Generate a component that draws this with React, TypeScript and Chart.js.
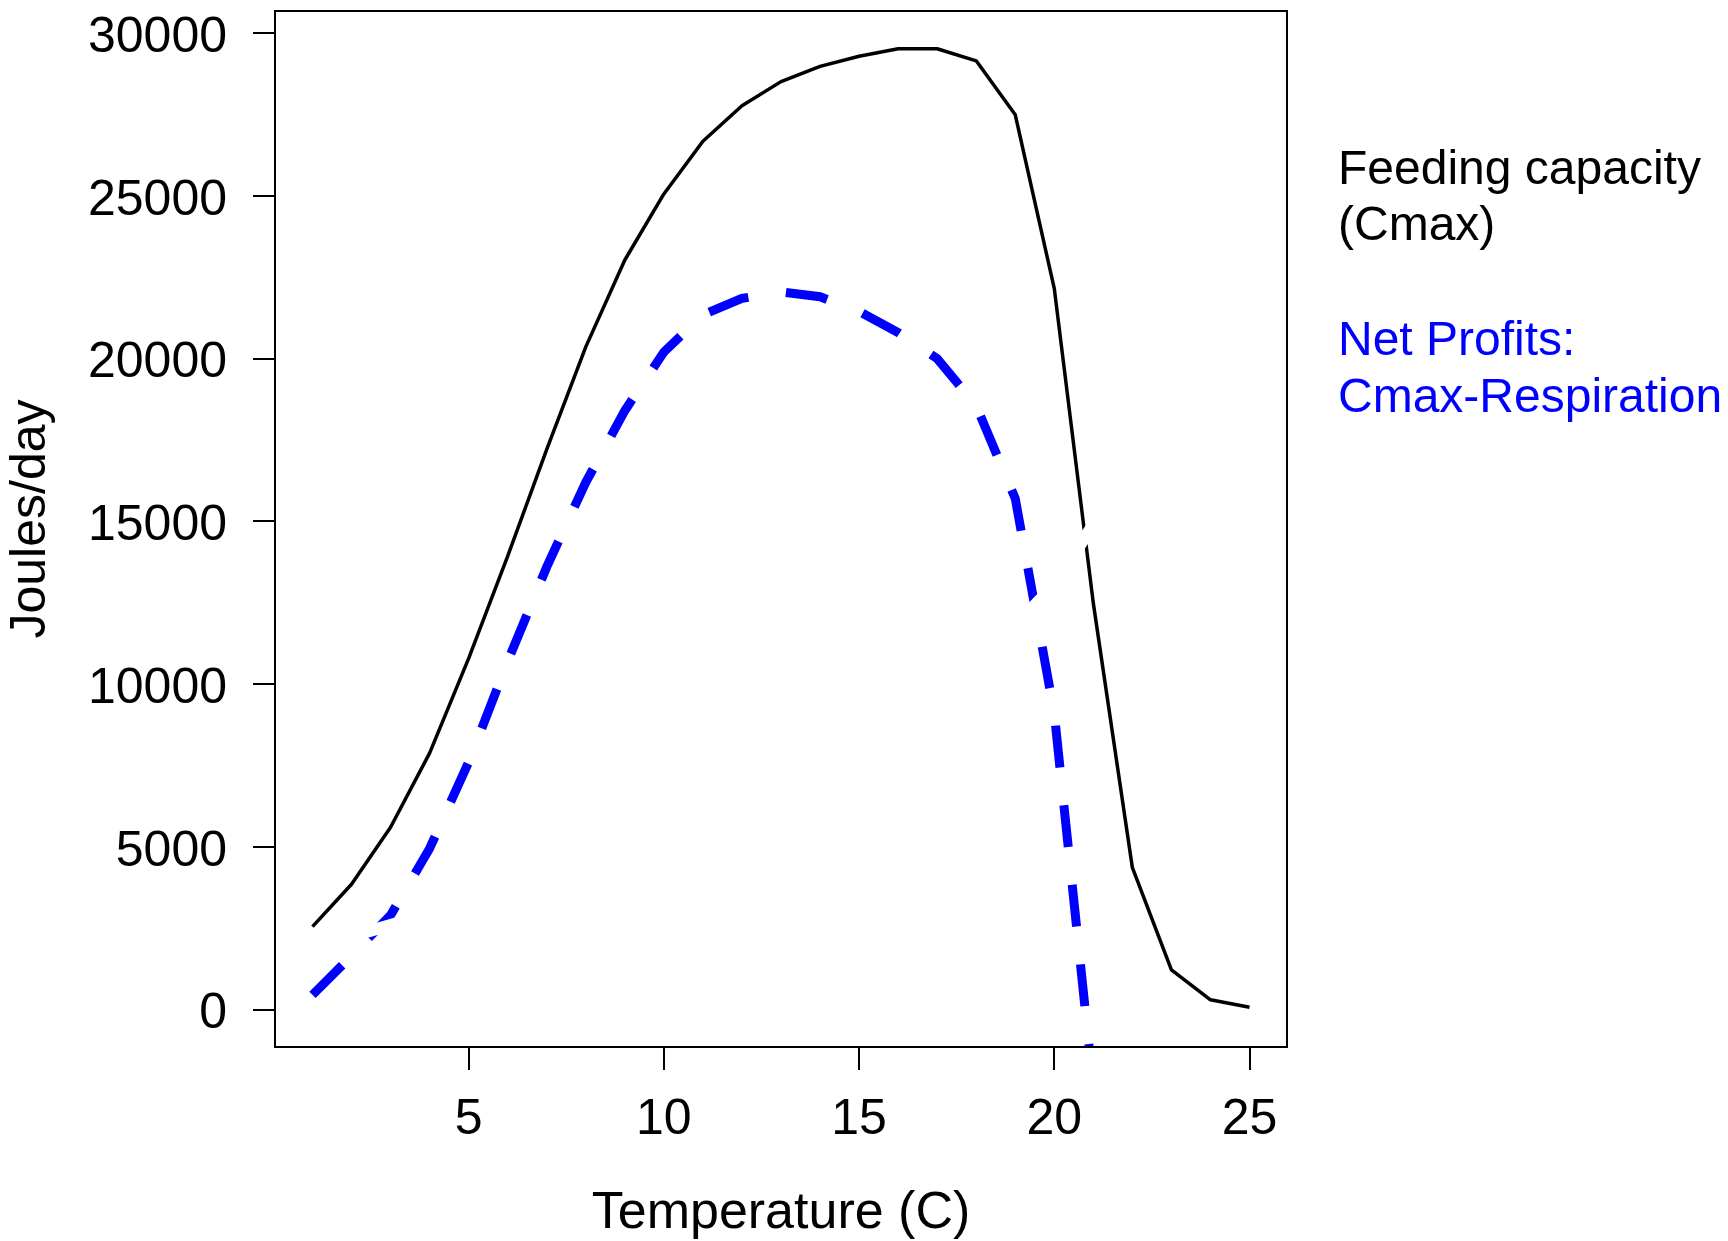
import React, { useEffect, useRef } from "react";
import { Chart, registerables } from "chart.js";

Chart.register(...registerables);

// Temperature (C)
const temperature = [1, 2, 3, 4, 5, 6, 7, 8, 9, 10, 11, 12, 13, 14, 15, 16, 17, 18, 19, 20, 21, 22, 23, 24, 25];
// Feeding capacity (Cmax), Joules/day
const cmax = [2550, 3850, 5600, 7880, 10790, 13930, 17210, 20360, 23030, 25060, 26680, 27770, 28510, 28980, 29290, 29520, 29520, 29150, 27490, 22150, 12480, 4360, 1220, 300, 70];
// Net profits: Cmax - Respiration (T = 1..21)
const netProfit = [450, 1650, 2900, 4950, 7600, 10700, 13600, 16200, 18400, 20200, 21350, 21850, 22050, 21900, 21450, 20800, 20000, 18550, 15700, 9100, -2400];
// Respiration curve, drawn in white in the original (only visible as gaps)
const respiration = [2100, 2250, 2600, 2950, 3200, 3450, 3800, 4150, 4600, 5000, 5500, 6000, 6550, 7150, 7850, 8700, 9500, 10600, 11800, 13050, 14900, 16500, 18200, 20000, 22000];

const xTicks = [5, 10, 15, 20, 25];
const yTicks = [0, 5000, 10000, 15000, 20000, 25000, 30000];

const xTitle = "Temperature (C)";
const yTitle = "Joules/day";
const legendBlack = ["Feeding capacity", "(Cmax)"];
const legendBlue = ["Net Profits:", "Cmax-Respiration"];

const FAMILY = "'Liberation Sans', Arial, Helvetica, sans-serif";

export default function App() {
  const ref = useRef<HTMLCanvasElement>(null);

  useEffect(() => {
    document.body.style.margin = "0";
    const canvas = ref.current;
    if (!canvas) return;

    const boxPlugin = {
      id: "rbox",
      afterDatasetsDraw(chart: any) {
        const { ctx, chartArea: a } = chart;
        ctx.save();
        ctx.strokeStyle = "#000";
        ctx.lineWidth = 2;
        ctx.strokeRect(a.left, a.top, a.right - a.left, a.bottom - a.top);
        ctx.restore();
      },
      afterDraw(chart: any) {
        const { ctx, chartArea: a } = chart;
        ctx.save();
        // y axis title
        ctx.font = `50px ${FAMILY}`;
        ctx.fillStyle = "#000";
        ctx.textAlign = "center";
        ctx.textBaseline = "middle";
        ctx.translate(31, (a.top + a.bottom) / 2 - 10);
        ctx.rotate(-Math.PI / 2);
        ctx.fillText(yTitle, 0, 0);
        ctx.restore();

        ctx.save();
        ctx.font = `48px ${FAMILY}`;
        ctx.textAlign = "left";
        ctx.textBaseline = "alphabetic";
        ctx.fillStyle = "#000";
        ctx.fillText(legendBlack[0], 1338, 184);
        ctx.fillText(legendBlack[1], 1338, 240);
        ctx.fillStyle = "#0000FF";
        ctx.fillText(legendBlue[0], 1338, 355);
        ctx.fillText(legendBlue[1], 1338, 412);
        ctx.restore();
      },
    };

    const zeroPad = (s: any) => {
      s.paddingTop = 0;
      s.paddingBottom = 0;
      s.paddingLeft = 0;
      s.paddingRight = 0;
    };

    const chart = new Chart(canvas, {
      type: "line",
      data: {
        datasets: [
          {
            label: "Respiration",
            data: temperature.map((t, i) => ({ x: t, y: respiration[i] })),
            borderColor: "#FFFFFF",
            borderWidth: 12,
            pointRadius: 0,
            tension: 0,
            borderJoinStyle: "round",
            order: 0,
            clip: 0,
          } as any,
          {
            label: "Net Profits",
            data: netProfit.map((v, i) => ({ x: temperature[i], y: v })),
            borderColor: "#0000FF",
            borderWidth: 9,
            borderDash: [42, 38],
            pointRadius: 0,
            tension: 0,
            borderJoinStyle: "miter",
            order: 1,
            clip: 0,
          } as any,
          {
            label: "Feeding capacity (Cmax)",
            data: temperature.map((t, i) => ({ x: t, y: cmax[i] })),
            borderColor: "#000000",
            borderWidth: 3.5,
            pointRadius: 0,
            tension: 0,
            borderJoinStyle: "round",
            order: 2,
            clip: 0,
          } as any,
        ],
      },
      options: {
        animation: false,
        responsive: false,
        devicePixelRatio: 1,
        layout: { padding: { top: 11, right: 441, bottom: 0, left: 0 } },
        plugins: { legend: { display: false }, tooltip: { enabled: false } },
        scales: {
          x: {
            type: "linear",
            min: 0.04,
            max: 25.96,
            afterBuildTicks: (s: any) => {
              s.ticks = xTicks.map((v) => ({ value: v }));
            },
            afterFit: (s: any) => {
              s.height = 194;
              zeroPad(s);
            },
            grid: { display: true, drawOnChartArea: false, drawTicks: true, tickLength: 23, color: "#000", lineWidth: 2 },
            border: { display: false },
            ticks: {
              color: "#000",
              font: { family: FAMILY, size: 50 },
              padding: 20,
              maxRotation: 0,
              autoSkip: false,
              callback: (v: any) => String(v),
            },
            title: {
              display: true,
              text: xTitle,
              color: "#000",
              font: { family: FAMILY, size: 52 },
              padding: { top: 0, bottom: -4 },
            },
          },
          y: {
            type: "linear",
            min: -1150,
            max: 30680,
            afterBuildTicks: (s: any) => {
              s.ticks = yTicks.map((v) => ({ value: v }));
            },
            afterFit: (s: any) => {
              s.width = 275;
              zeroPad(s);
            },
            grid: { display: true, drawOnChartArea: false, drawTicks: true, tickLength: 22, color: "#000", lineWidth: 2 },
            border: { display: false },
            ticks: {
              color: "#000",
              font: { family: FAMILY, size: 50 },
              padding: 26,
              labelOffset: 5,
              autoSkip: false,
              callback: (v: any) => String(v),
            },
            title: { display: false },
          },
        },
      } as any,
      plugins: [boxPlugin],
    });

    return () => chart.destroy();
  }, []);

  return (
    <canvas
      ref={ref}
      width={1728}
      height={1241}
      style={{ position: "absolute", left: 0, top: 0, display: "block", width: 1728, height: 1241 }}
    />
  );
}
